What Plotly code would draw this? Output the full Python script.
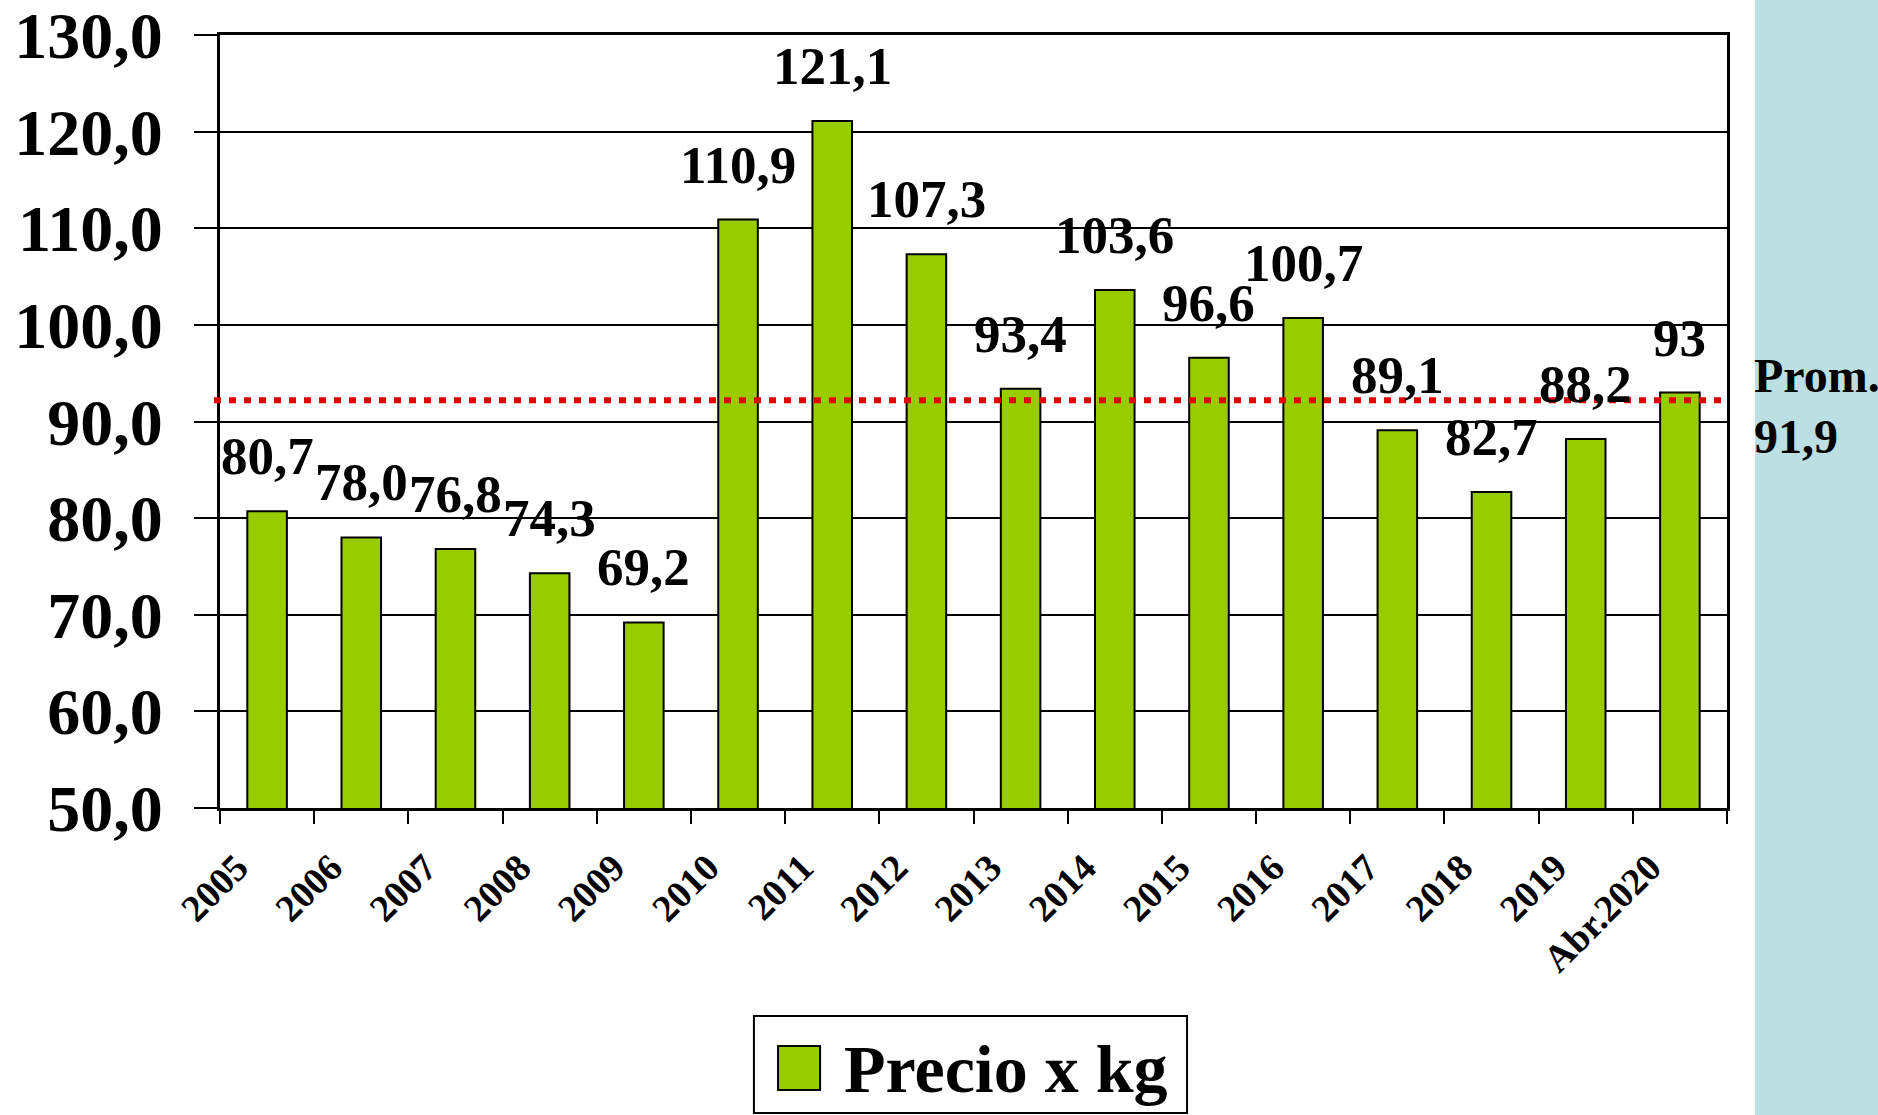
import plotly.graph_objects as go

categories = ["2005", "2006", "2007", "2008", "2009", "2010", "2011", "2012",
              "2013", "2014", "2015", "2016", "2017", "2018", "2019", "Abr.2020"]
precio = [80.7, 78.0, 76.8, 74.3, 69.2, 110.9, 121.1, 107.3,
          93.4, 103.6, 96.6, 100.7, 89.1, 82.7, 88.2, 93.0]
precio_labels = ["80,7", "78,0", "76,8", "74,3", "69,2", "110,9", "121,1", "107,3",
                 "93,4", "103,6", "96,6", "100,7", "89,1", "82,7", "88,2", "93"]
promedio_line = 92.2
promedio_text = "91,9"
y_ticks = [50, 60, 70, 80, 90, 100, 110, 120, 130]
y_tick_labels = ["50,0", "60,0", "70,0", "80,0", "90,0", "100,0", "110,0", "120,0", "130,0"]

FONT = "Liberation Serif"
GREEN = "#99CC00"

fig = go.Figure()
fig.add_trace(go.Bar(
    x=categories, y=precio, name="Precio x kg",
    marker=dict(color=GREEN, line=dict(color="black", width=2)),
    width=0.42, showlegend=False, hoverinfo="skip",
))

annotations = []
for i, (v, t) in enumerate(zip(precio, precio_labels)):
    annotations.append(dict(
        x=i, y=v, xref="x", yref="y", text=t, showarrow=False,
        yanchor="middle", xanchor="center", yshift=55,
        font=dict(family=FONT, size=53, color="black", weight="bold"),
    ))

# Prom. label in right panel
annotations.append(dict(x=1.0166, y=0.560, xref="paper", yref="paper", text="Prom.",
                        showarrow=False, xanchor="left", yanchor="middle",
                        font=dict(family=FONT, size=48, color="black", weight="bold")))
annotations.append(dict(x=1.0166, y=0.481, xref="paper", yref="paper", text=promedio_text,
                        showarrow=False, xanchor="left", yanchor="middle",
                        font=dict(family=FONT, size=48, color="black", weight="bold")))
# manual legend text
annotations.append(dict(x=0.4127, y=-0.3377, xref="paper", yref="paper", text="Precio x kg",
                        showarrow=False, xanchor="left", yanchor="middle",
                        font=dict(family=FONT, size=68, color="black", weight="bold")))

shapes = [
    # right light-blue panel
    dict(type="rect", xref="paper", yref="paper", x0=1.0186, x1=1.2, y0=-0.6, y1=1.2,
         fillcolor="#BBDFE2", line=dict(width=0), layer="below"),
    # average line
    dict(type="line", xref="paper", yref="y", x0=-0.004, x1=0.997,
         y0=promedio_line, y1=promedio_line,
         line=dict(color="#E00000", width=6, dash="7px,8px"), layer="above"),
    # legend box
    dict(type="rect", xref="paper", yref="paper", x0=0.3543, x1=0.6417, y0=-0.2691, y1=-0.3946,
         fillcolor="white", line=dict(color="black", width=2)),
    # legend symbol
    dict(type="rect", xref="paper", yref="paper", x0=0.3703, x1=0.3982, y0=-0.3078, y1=-0.3648,
         fillcolor=GREEN, line=dict(color="black", width=2)),
]

fig.update_layout(
    width=1878, height=1115,
    margin=dict(l=220, r=151, t=35, b=307),
    plot_bgcolor="white", paper_bgcolor="white",
    font=dict(family=FONT, color="black"),
    annotations=annotations, shapes=shapes,
    showlegend=False, hovermode=False,
)
fig.update_xaxes(
    type="category", showline=True, linecolor="black", linewidth=3, mirror=True,
    ticks="outside", ticklen=13, tickwidth=2, tickcolor="black", tickson="boundaries",
    tickangle=-45, tickfont=dict(family=FONT, size=38, color="black", weight="bold"),
    ticklabelshift=-30, ticklabelstandoff=19, automargin=False,
    showgrid=False, range=[-0.5, 15.5],
)
fig.update_yaxes(
    range=[50, 130], tickvals=y_ticks, ticktext=y_tick_labels,
    showline=True, linecolor="black", linewidth=3, mirror=True,
    ticks="outside", ticklen=23, tickwidth=2, tickcolor="black",
    tickfont=dict(family=FONT, size=66, color="black", weight="bold"),
    ticklabelstandoff=18, ticklabeloverflow="allow", automargin=False,
    showgrid=True, gridcolor="black", gridwidth=2, zeroline=False,
)

fig.write_html("out.html", config={"displayModeBar": False},
               post_script="document.body.style.margin='0';document.body.style.overflow='hidden';")
